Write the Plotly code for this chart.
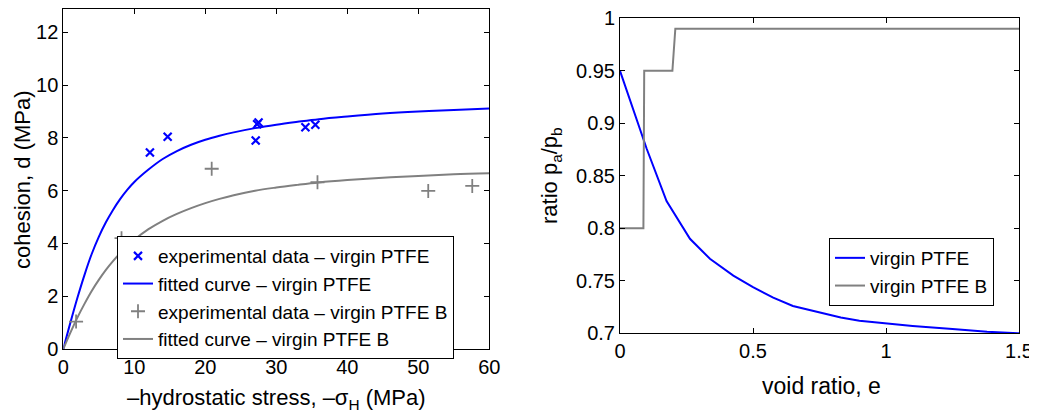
import plotly.graph_objects as go

# ---------------- data: left panel ----------------
exp_virgin_x = [12.2, 14.7, 27.1, 27.3, 27.5, 34.1, 35.5]
exp_virgin_y = [7.45, 8.04, 7.90, 8.52, 8.58, 8.40, 8.50]

fit_virgin_x = [0, 1, 2, 3, 4, 5, 6, 7, 8, 9, 10, 12, 14, 16, 18, 20, 22, 24, 27, 30, 33, 36,
                40, 45, 50, 55, 60]
fit_virgin_y = [0, 1.0, 1.95, 2.82, 3.6, 4.25, 4.8, 5.27, 5.68, 6.03, 6.33, 6.8, 7.2, 7.5, 7.74,
                7.93, 8.08, 8.21, 8.37, 8.5, 8.61, 8.71, 8.81, 8.92, 9.0, 9.06, 9.11]

exp_b_x = [1.8, 8.2, 20.9, 35.8, 51.4, 57.6]
exp_b_y = [1.04, 4.2, 6.83, 6.32, 5.99, 6.18]

fit_b_x = [0, 1, 2, 3, 4, 5, 6, 7, 8, 9, 10, 12, 14, 16, 18, 20, 22, 24, 27, 30, 33, 36,
           40, 45, 50, 55, 60]
fit_b_y = [0, 0.62, 1.2, 1.72, 2.2, 2.62, 3.0, 3.33, 3.63, 3.9, 4.14, 4.54, 4.86, 5.12, 5.34,
           5.53, 5.69, 5.83, 6.0, 6.12, 6.22, 6.31, 6.4, 6.49, 6.56, 6.62, 6.66]

# ---------------- data: right panel ----------------
ratio_virgin_e = [0, 0.05, 0.1, 0.175, 0.263, 0.338, 0.426, 0.5, 0.576, 0.65, 0.75, 0.83, 0.9,
                  1.0, 1.1, 1.25, 1.38, 1.5]
ratio_virgin_p = [0.95, 0.913, 0.876, 0.826, 0.790, 0.771, 0.755, 0.744, 0.734, 0.726, 0.720,
                  0.715, 0.712, 0.7095, 0.707, 0.704, 0.7015, 0.700]

ratio_b_e = [0, 0.088, 0.091, 0.197, 0.208, 1.5]
ratio_b_p = [0.8, 0.8, 0.95, 0.95, 0.99, 0.99]

left_xticks = [0, 10, 20, 30, 40, 50, 60]
left_yticks = [0, 2, 4, 6, 8, 10, 12]
right_xticks = [0, 0.5, 1, 1.5]
right_xticklabels = ["0", "0.5", "1", "1.5"]
right_yticks = [0.7, 0.75, 0.8, 0.85, 0.9, 0.95, 1]
right_yticklabels = ["0.7", "0.75", "0.8", "0.85", "0.9", "0.95", "1"]

BLUE = "#0000FF"
GREY = "#808080"
FONT = "Liberation Sans, Arial, Helvetica, sans-serif"

fig = go.Figure()

fig.add_trace(go.Scatter(x=exp_virgin_x, y=exp_virgin_y, mode="markers",
                         name="experimental data \u2013 virgin PTFE",
                         marker=dict(symbol="x-thin", size=8, color=BLUE,
                                     line=dict(color=BLUE, width=2.2)),
                         xaxis="x", yaxis="y", legend="legend"))
fig.add_trace(go.Scatter(x=fit_virgin_x, y=fit_virgin_y, mode="lines",
                         name="fitted curve \u2013 virgin PTFE",
                         line=dict(color=BLUE, width=2, shape="spline", smoothing=1.0),
                         xaxis="x", yaxis="y", legend="legend"))
fig.add_trace(go.Scatter(x=exp_b_x, y=exp_b_y, mode="markers",
                         name="experimental data \u2013 virgin PTFE B",
                         marker=dict(symbol="cross-thin", size=10, color=GREY,
                                     line=dict(color=GREY, width=1.8)),
                         xaxis="x", yaxis="y", legend="legend"))
fig.add_trace(go.Scatter(x=fit_b_x, y=fit_b_y, mode="lines",
                         name="fitted curve \u2013 virgin PTFE B",
                         line=dict(color=GREY, width=2, shape="spline", smoothing=1.0),
                         xaxis="x", yaxis="y", legend="legend"))

fig.add_trace(go.Scatter(x=ratio_virgin_e, y=ratio_virgin_p, mode="lines",
                         name="virgin PTFE", line=dict(color=BLUE, width=2),
                         xaxis="x2", yaxis="y2", legend="legend2"))
fig.add_trace(go.Scatter(x=ratio_b_e, y=ratio_b_p, mode="lines",
                         name="virgin PTFE B", line=dict(color=GREY, width=2),
                         xaxis="x2", yaxis="y2", legend="legend2"))

W, H = 1037, 416
OFF = 8  # page body margin offset


def px_x(p):
    return min(1.0, max(0.0, (p - OFF) / W))


def px_y(p):
    return min(1.0, max(0.0, 1 - (p - OFF) / H))


axis_common = dict(showline=True, linecolor="black", linewidth=1, mirror="ticks",
                   ticks="inside", ticklen=5, tickcolor="black", tickwidth=1,
                   showgrid=False, zeroline=False, automargin=False,
                   ticklabeloverflow="allow",
                   tickfont=dict(family=FONT, size=20, color="black"))

fig.update_layout(
    width=W, height=H,
    margin=dict(l=0, r=0, t=0, b=0, autoexpand=False),
    paper_bgcolor="white", plot_bgcolor="white",
    font=dict(family=FONT, size=20, color="black"),
    xaxis=dict(domain=[px_x(63.3), px_x(489.3)], range=[0, 60], tickvals=left_xticks,
               anchor="y", **axis_common),
    # top of frame is clipped to the page top (2 px lower than the reference)
    yaxis=dict(domain=[px_y(349), px_y(8.6)], range=[0, 12.9], tickvals=left_yticks,
               anchor="x", **axis_common),
    xaxis2=dict(domain=[px_x(620), px_x(1019)], range=[0, 1.5], tickvals=right_xticks,
                ticktext=right_xticklabels, anchor="y2", **axis_common),
    yaxis2=dict(domain=[px_y(333.3), px_y(18.3)], range=[0.7, 1], tickvals=right_yticks,
                ticktext=right_yticklabels, anchor="x2", **axis_common),
    legend=dict(x=px_x(117), y=px_y(236), xanchor="left", yanchor="top",
                bgcolor="white", bordercolor="black", borderwidth=1,
                font=dict(family=FONT, size=19, color="black"), tracegroupgap=0),
    legend2=dict(x=px_x(829), y=px_y(238), xanchor="left", yanchor="top",
                 bgcolor="white", bordercolor="black", borderwidth=1,
                 font=dict(family=FONT, size=19, color="black"), tracegroupgap=0),
    showlegend=True,
)

title_font = dict(family=FONT, size=22, color="black")
fig.add_annotation(text="\u2013hydrostatic stress, \u2013\u03c3<sub>H</sub> (MPa)",
                   x=px_x(276), y=px_y(399), xref="paper", yref="paper",
                   xanchor="center", yanchor="middle", showarrow=False, font=title_font)
fig.add_annotation(text="cohesion, d (MPa)", textangle=-90,
                   x=px_x(22), y=px_y(180), xref="paper", yref="paper",
                   xanchor="center", yanchor="middle", showarrow=False, font=title_font)
fig.add_annotation(text="void ratio, e",
                   x=px_x(821), y=px_y(386), xref="paper", yref="paper",
                   xanchor="center", yanchor="middle", showarrow=False,
                   font=dict(family=FONT, size=23, color="black"))
fig.add_annotation(text="ratio p<sub>a</sub>/p<sub>b</sub>", textangle=-90,
                   x=px_x(551), y=px_y(176), xref="paper", yref="paper",
                   xanchor="center", yanchor="middle", showarrow=False, font=title_font)

fig.write_html("out.html")
